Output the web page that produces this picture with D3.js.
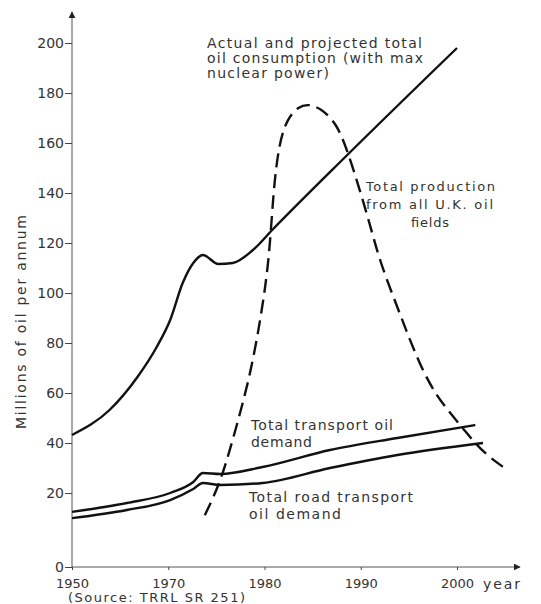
<!DOCTYPE html>
<html>
<head>
<meta charset="utf-8">
<script src="https://cdn.jsdelivr.net/npm/d3@7"></script>
<style>
  body { margin: 0; background: #fff; }
  text { font-family: "DejaVu Sans", sans-serif; fill: #333; }
</style>
</head>
<body>
<div id="chart"></div>
<script>
// values (millions of tonnes of oil per annum)
var consumptionYears = [1960, 1963.9, 1966.8, 1968.8, 1970.2, 1971.5, 1972.6, 1973.6, 1975.2, 1976.7, 1978.8, 1980.8, 1988.6, 2000];
var consumption      = [43.2, 53.2, 66.4, 78.4, 89.2, 104, 112, 115.2, 111.6, 112, 117.2, 125.2, 155.2, 198];

var productionYears = [1973.8, 1975.4, 1976.7, 1978.5, 1979.7, 1980.5, 1980.9, 1981.5, 1982.4, 1983.5, 1984.5, 1985.8, 1987.5, 1988.7, 1989.9, 1991, 1992, 1993.8, 1995.1, 1996.5, 1997.9, 1999.3, 2001, 2002.4, 2004.3, 2005];
var production      = [14, 24, 41.2, 66.4, 92, 114, 140, 160, 170, 174.4, 175.6, 174, 168, 156, 141.2, 126.8, 112.4, 94.4, 81.2, 68.4, 58.8, 52, 44, 37.6, 31.6, 30];

var transportYears = [1960, 1965.7, 1970.2, 1972.6, 1973.6, 1975.4, 1979.8, 1986.8, 1993.8, 2001.9];
var transport      = [14.9, 17.3, 20, 24.4, 28, 27.6, 30.4, 37.2, 42, 47.2];

var roadYears = [1960, 1965.7, 1970.2, 1972.6, 1973.6, 1975.4, 1979.8, 1986.8, 1993.8, 2002.7];
var road      = [13.2, 15.4, 18.1, 21.6, 24, 23.2, 24, 30, 35.2, 40];

var yTicks = [0, 20, 40, 60, 80, 100, 120, 140, 160, 180, 200];
var xTicks = [1960, 1970, 1980, 1990, 2000];
var xTickLabels = ["1950", "1970", "1980", "1990", "2000"];

var width = 541, height = 604;

var svg = d3.select("#chart").append("svg")
    .attr("width", width)
    .attr("height", height);

// the printed axis is not evenly spaced between 0 and 20
var x = d3.scaleLinear().domain([1960, 2000]).range([72, 457]);
var y = d3.scaleLinear().domain([0, 20, 200]).range([567, 493, 43]);

var defs = svg.append("defs");
defs.append("marker")
    .attr("id", "arrow")
    .attr("viewBox", "0 0 10 10")
    .attr("refX", 9).attr("refY", 5)
    .attr("markerWidth", 7).attr("markerHeight", 7)
    .attr("orient", "auto")
  .append("path")
    .attr("d", "M0,0L10,5L0,10z")
    .attr("fill", "#222");

// axis lines with arrow heads
svg.append("line")
    .attr("x1", x(1960)).attr("y1", y(0))
    .attr("x2", x(1960)).attr("y2", 12)
    .attr("stroke", "#555").attr("stroke-width", 1)
    .attr("marker-end", "url(#arrow)");
svg.append("line")
    .attr("x1", x(1960)).attr("y1", y(0))
    .attr("x2", 520).attr("y2", y(0))
    .attr("stroke", "#555").attr("stroke-width", 1)
    .attr("marker-end", "url(#arrow)");

var yAxis = svg.append("g")
    .attr("transform", "translate(" + x(1960) + ",0)")
    .call(d3.axisLeft(y).tickValues(yTicks).tickSize(7).tickPadding(1));
yAxis.select(".domain").remove();
yAxis.selectAll("text").style("font-size", "14px").style("fill", "#333");
yAxis.selectAll("line").attr("stroke", "#444");

var xAxis = svg.append("g")
    .attr("transform", "translate(0," + y(0) + ")")
    .call(d3.axisBottom(x).tickValues(xTicks).tickSize(3).tickPadding(9)
      .tickFormat(function(d, i) { return xTickLabels[i]; }));
xAxis.select(".domain").remove();
xAxis.selectAll("text").style("font-size", "13px").style("fill", "#333");
xAxis.selectAll("line").attr("stroke", "#444");

function pts(xs, vs) { return xs.map(function(d, i) { return [d, vs[i]]; }); }

var line = d3.line()
    .x(function(d) { return x(d[0]); })
    .y(function(d) { return y(d[1]); })
    .curve(d3.curveMonotoneX);

var prodLine = d3.line()
    .x(function(d) { return x(d[0]); })
    .y(function(d) { return y(d[1]); })
    .curve(d3.curveBasis);

svg.append("path")
    .datum(pts(consumptionYears, consumption))
    .attr("d", line)
    .attr("fill", "none").attr("stroke", "#111").attr("stroke-width", 2.4);

svg.append("path")
    .datum(pts(transportYears, transport))
    .attr("d", line)
    .attr("fill", "none").attr("stroke", "#111").attr("stroke-width", 2.4);

svg.append("path")
    .datum(pts(roadYears, road))
    .attr("d", line)
    .attr("fill", "none").attr("stroke", "#111").attr("stroke-width", 2.4);

svg.append("path")
    .datum(pts(productionYears, production))
    .attr("d", prodLine)
    .attr("fill", "none").attr("stroke", "#111").attr("stroke-width", 2.4)
    .attr("stroke-dasharray", "14,7");

// text, each line stretched to the width it has on the scan
function label(lines, x0, y0, dy, size) {
  var t = svg.append("text").style("font-size", size + "px");
  lines.forEach(function(s, i) {
    t.append("tspan")
      .attr("x", x0 + (s.dx || 0)).attr("y", y0 + i * dy)
      .attr("textLength", s.w).attr("lengthAdjust", "spacing")
      .text(s.t);
  });
  return t;
}
label([{t: "Actual and projected total", w: 215},
       {t: "oil consumption (with max", w: 216},
       {t: "nuclear power)", w: 122}], 207, 48, 15, 14);
label([{t: "Total production", w: 129},
       {t: "from all U.K. oil", w: 127},
       {t: "fields", dx: 45, w: 38}], 366, 191, 18, 13);
label([{t: "Total transport oil", w: 142},
       {t: "demand", w: 61}], 251, 430, 17, 14);
label([{t: "Total road transport", w: 164},
       {t: "oil demand", w: 92}], 249, 502, 17, 14);
label([{t: "year", w: 37}], 483, 589, 0, 14);
label([{t: "(Source: TRRL SR 251)", w: 177}], 68, 602, 0, 13);

svg.append("text")
    .attr("transform", "translate(26,322) rotate(-90)")
    .attr("text-anchor", "middle")
    .attr("textLength", 214).attr("lengthAdjust", "spacing")
    .style("font-size", "14px")
    .text("Millions of oil per annum");
</script>
</body>
</html>
